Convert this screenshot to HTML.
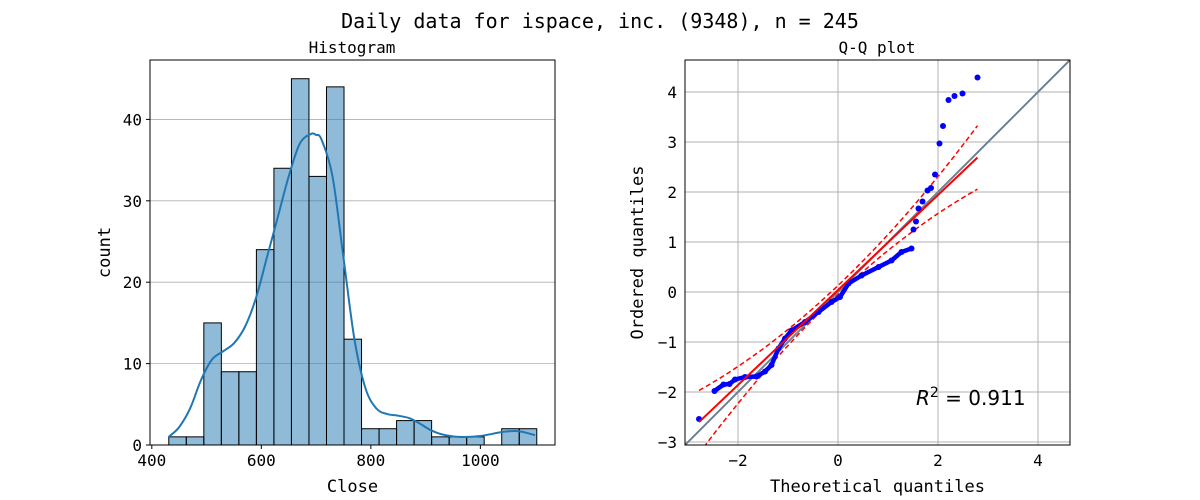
<!DOCTYPE html>
<html><head><meta charset="utf-8"><style>
body{margin:0;background:#fff;}
svg{display:block;font-family:"DejaVu Sans Mono","Liberation Mono",monospace;}
</style></head><body>
<svg id="fig" width="1200" height="500" viewBox="0 0 1200 500" xmlns="http://www.w3.org/2000/svg">
<text x="600" y="28" text-anchor="middle" font-size="20">Daily data for ispace, inc. (9348), n = 245</text>
<text x="352" y="53" text-anchor="middle" font-size="16">Histogram</text>
<text x="877" y="53" text-anchor="middle" font-size="16">Q-Q plot</text>
<g id="hist"></g>
<g id="qq"></g>
</svg>
<script>
const binStart = 431;
const binWidth = 32;
const counts = [1,1,15,9,9,24,34,45,33,44,13,2,2,3,3,1,1,1,0,2,2];
const histXTicks = [400,600,800,1000];
const histYTicks = [0,10,20,30,40];
const kdeX = [431,450,470,490,510,530,550,570,590,610,630,650,670,690,700,710,730,750,770,790,810,830,850,870,890,910,930,960,1000,1040,1070,1100];
const kdeY = [1,2.2,4.5,8,10.5,11.5,12.5,14.5,18,23,28,33,37,38.2,38.1,37.5,33,23,13,7,4.5,3.8,3.6,3.3,2.6,1.8,1.3,1.0,1.1,1.6,1.7,1.2];
const qqT = [-2.78,-2.47,-2.29,-2.17,-2.06,-1.86,-1.63,-1.46,-1.33,-1.19,-1.06,-0.93,-0.66,-0.39,-0.13,0.04,0.21,0.47,0.81,1.07,1.27,1.47,1.51,1.56,1.61,1.69,1.79,1.86,1.94,2.03,2.10,2.21,2.33,2.49,2.79];
const qqO = [-2.54,-1.98,-1.85,-1.84,-1.75,-1.70,-1.69,-1.59,-1.46,-1.13,-0.93,-0.77,-0.60,-0.40,-0.20,-0.10,0.17,0.33,0.50,0.63,0.80,0.87,1.25,1.41,1.67,1.81,2.03,2.08,2.35,2.97,3.32,3.84,3.92,3.97,4.29];
const qqTicks = [-2,0,2,4];
const qqYTicks = [-3,-2,-1,0,1,2,3,4];
const fitSlope = 0.95, fitIntercept = 0.04;
const rSquared = "0.911";

const NS="http://www.w3.org/2000/svg";
function mk(tag,attrs,parent){const e=document.createElementNS(NS,tag);for(const k in attrs)e.setAttribute(k,attrs[k]);parent.appendChild(e);return e;}
function smooth(pts){let d='M'+pts[0][0].toFixed(1)+','+pts[0][1].toFixed(1);
  for(let i=0;i<pts.length-1;i++){const p0=pts[Math.max(0,i-1)],p1=pts[i],p2=pts[i+1],p3=pts[Math.min(pts.length-1,i+2)];
    const c1=[p1[0]+(p2[0]-p0[0])/6,p1[1]+(p2[1]-p0[1])/6],c2=[p2[0]-(p3[0]-p1[0])/6,p2[1]-(p3[1]-p1[1])/6];
    d+='C'+c1.map(v=>v.toFixed(1)).join(',')+' '+c2.map(v=>v.toFixed(1)).join(',')+' '+p2.map(v=>v.toFixed(1)).join(',');}
  return d;}

// Histogram
const H=document.getElementById('hist');
const hx0=150,hx1=555,hy0=60,hy1=445;
const hxMin=396.7,hxMax=1136.3,hyMin=0,hyMax=47.3;
const hx=v=>hx0+(v-hxMin)/(hxMax-hxMin)*(hx1-hx0);
const hy=v=>hy1-(v-hyMin)/(hyMax-hyMin)*(hy1-hy0);
histYTicks.forEach(t=>{
  const g=mk('line',{x1:hx0,x2:hx1,y1:hy(t),y2:hy(t),stroke:'#b0b0b0','stroke-width':0.8},H);
  
  
  const tk=mk('line',{x1:hx0-4,x2:hx0,y1:hy(t),y2:hy(t),stroke:'#000'},H);
  
  
  const l=mk('text',{x:hx0-8,y:hy(t)+6,'text-anchor':'end','font-size':16},H);l.textContent=t;
  
  
});
counts.forEach((c,i)=>{
  if(c<=0)return;
  const a=binStart+i*binWidth,b=a+binWidth;
  const r=mk('rect',{x:hx(a),y:hy(c),width:hx(b)-hx(a),height:hy(0)-hy(c),fill:'rgba(31,119,180,0.5)',stroke:'#000','stroke-width':1},H);
  
  
});
const kd=mk('path',{d:smooth(kdeX.map((x,i)=>[hx(x),hy(kdeY[i])])),fill:'none',stroke:'#1f77b4','stroke-width':2},H);


histXTicks.forEach(t=>{
  const tk=mk('line',{x1:hx(t),x2:hx(t),y1:hy1,y2:hy1+4,stroke:'#000'},H);
  
  
  const l=mk('text',{x:hx(t),y:hy1+21,'text-anchor':'middle','font-size':16},H);l.textContent=t;
  
  
});
const hf=mk('rect',{x:hx0,y:hy0,width:hx1-hx0,height:hy1-hy0,fill:'none',stroke:'#000','stroke-width':1},H);


const hxl=mk('text',{x:(hx0+hx1)/2,y:492,'text-anchor':'middle','font-size':17},H);hxl.textContent='Close';


const hyl=mk('text',{x:0,y:0,'text-anchor':'middle','font-size':17,transform:`translate(110,${(hy0+hy1)/2}) rotate(-90)`},H);hyl.textContent='count';



// QQ
const Q=document.getElementById('qq');
const qx0=685,qx1=1070,qy0=60,qy1=445;
const qMin=-3.06,qMax=4.64;
const qx=v=>qx0+(v-qMin)/(qMax-qMin)*(qx1-qx0);
const qy=v=>qy1-(v-qMin)/(qMax-qMin)*(qy1-qy0);
const cp=mk('clipPath',{id:'qclip'},Q);mk('rect',{x:qx0,y:qy0,width:qx1-qx0,height:qy1-qy0},cp);
qqTicks.forEach(t=>{
  const g=mk('line',{x1:qx(t),x2:qx(t),y1:qy0,y2:qy1,stroke:'#b0b0b0','stroke-width':1},Q);
  
  
  const l=mk('text',{x:qx(t),y:qy1+21,'text-anchor':'middle','font-size':16},Q);l.textContent=(t<0?'\u2212'+(-t):t);
  
  
});
qqYTicks.forEach(t=>{
  const g=mk('line',{x1:qx0,x2:qx1,y1:qy(t),y2:qy(t),stroke:'#b0b0b0','stroke-width':1},Q);
  
  
  const l=mk('text',{x:qx0-8,y:qy(t)+6,'text-anchor':'end','font-size':16},Q);l.textContent=(t<0?'\u2212'+(-t):t);
  
  
});
const G=mk('g',{'clip-path':'url(#qclip)'},Q);
const ref=mk('line',{x1:qx(qMin),y1:qy(qMin),x2:qx(qMax),y2:qy(qMax),stroke:'#708090','stroke-width':2},G);


const tA=qqT[0],tB=qqT[qqT.length-1];
let up='',lo='';
for(let i=0;i<=40;i++){const t=tA+(tB-tA)*i/40;const f=fitIntercept+fitSlope*t;const w=0.09+0.07*t*t;
  up+=(i?'L':'M')+qx(t).toFixed(1)+','+qy(f+w).toFixed(1);lo+=(i?'L':'M')+qx(t).toFixed(1)+','+qy(f-w).toFixed(1);}
const bu=mk('path',{d:up,fill:'none',stroke:'#ff0000','stroke-width':1.5,'stroke-dasharray':'5,3'},G);


const bl=mk('path',{d:lo,fill:'none',stroke:'#ff0000','stroke-width':1.5,'stroke-dasharray':'5,3'},G);


const dl=mk('path',{d:qqT.slice(1,qqT.length-13).map((t,i)=>(i?'L':'M')+qx(t).toFixed(1)+','+qy(qqO[i+1]).toFixed(1)).join(''),fill:'none',stroke:'#0000ff','stroke-width':4.5,'stroke-linejoin':'round'},G);


qqT.forEach((t,i)=>{
  const c=mk('circle',{cx:qx(t),cy:qy(qqO[i]),r:3,fill:'#0000ff'},G);
  
  
});
const fl=mk('line',{x1:qx(tA),y1:qy(fitIntercept+fitSlope*tA),x2:qx(tB),y2:qy(fitIntercept+fitSlope*tB),stroke:'#ff0000','stroke-width':2},G);


const qf=mk('rect',{x:qx0,y:qy0,width:qx1-qx0,height:qy1-qy0,fill:'none',stroke:'#000','stroke-width':1},Q);


const r2=mk('text',{x:916,y:405,'font-size':20,'font-family':'DejaVu Sans, sans-serif'},Q);
r2.innerHTML='<tspan font-style="italic">R</tspan><tspan dy="-8" font-size="14">2</tspan><tspan dy="8"> = '+rSquared+'</tspan>';


const qxl=mk('text',{x:(qx0+qx1)/2,y:492,'text-anchor':'middle','font-size':17},Q);qxl.textContent='Theoretical quantiles';


const qyl=mk('text',{x:0,y:0,'text-anchor':'middle','font-size':17,transform:`translate(643,${(qy0+qy1)/2}) rotate(-90)`},Q);qyl.textContent='Ordered quantiles';


</script>
</body></html>
